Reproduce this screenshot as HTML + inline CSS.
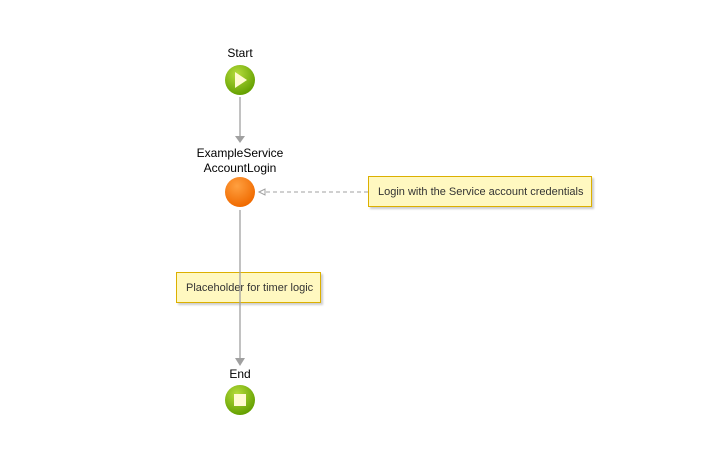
<!DOCTYPE html>
<html><head><meta charset="utf-8"><style>
body{margin:0;background:#fff;width:710px;height:466px;overflow:hidden;font-family:"Liberation Sans",sans-serif;}
.n{position:absolute;background:#fff8c0;border:1px solid #dcb000;box-shadow:2px 2px 2px rgba(0,0,0,0.2);font-size:11px;color:#333;box-sizing:border-box;padding-left:9px;line-height:30px;white-space:nowrap;overflow:hidden;}
.l{position:absolute;font-size:12px;color:#000;text-align:center;width:120px;left:180px;}
</style></head><body>
<div class="n" style="left:368px;top:176px;width:224px;height:31px">Login with the Service account credentials</div>
<div class="n" style="left:176px;top:272px;width:145px;height:31px">Placeholder for timer logic</div>
<svg width="710" height="466" style="position:absolute;left:0;top:0">
<defs>
<radialGradient id="g" cx="0.4" cy="0.3" r="0.7"><stop offset="0" stop-color="#b6dc3c"/><stop offset="1" stop-color="#64a000"/></radialGradient>
<radialGradient id="o" cx="0.4" cy="0.3" r="0.7"><stop offset="0" stop-color="#ffa040"/><stop offset="1" stop-color="#f06a00"/></radialGradient>
</defs>
<line x1="240" y1="97" x2="240" y2="138" stroke="#a0a0a0" stroke-width="1.3"/>
<polygon points="235,136 245,136 240,143" fill="#a0a0a0"/>
<line x1="240" y1="210" x2="240" y2="360" stroke="#a0a0a0" stroke-width="1.3"/>
<polygon points="235,358 245,358 240,366" fill="#a0a0a0"/>
<line x1="266" y1="192" x2="368" y2="192" stroke="#a0a0a0" stroke-dasharray="4,3"/>
<polygon points="259,192 265,189 265,195" fill="#fff" stroke="#a0a0a0"/>
<circle cx="240" cy="80" r="15" fill="url(#g)"/>
<polygon points="235,72 235,88 247,80" fill="#fffbd0"/>
<circle cx="240" cy="192" r="15" fill="url(#o)"/>
<circle cx="240" cy="400" r="15" fill="url(#g)"/>
<rect x="234" y="394" width="12" height="12" fill="#fffbd0"/>
</svg>
<div class="l" style="top:46px">Start</div>
<div class="l" style="top:146px">ExampleService</div>
<div class="l" style="top:161px">AccountLogin</div>
<div class="l" style="top:367px">End</div>
</body></html>
